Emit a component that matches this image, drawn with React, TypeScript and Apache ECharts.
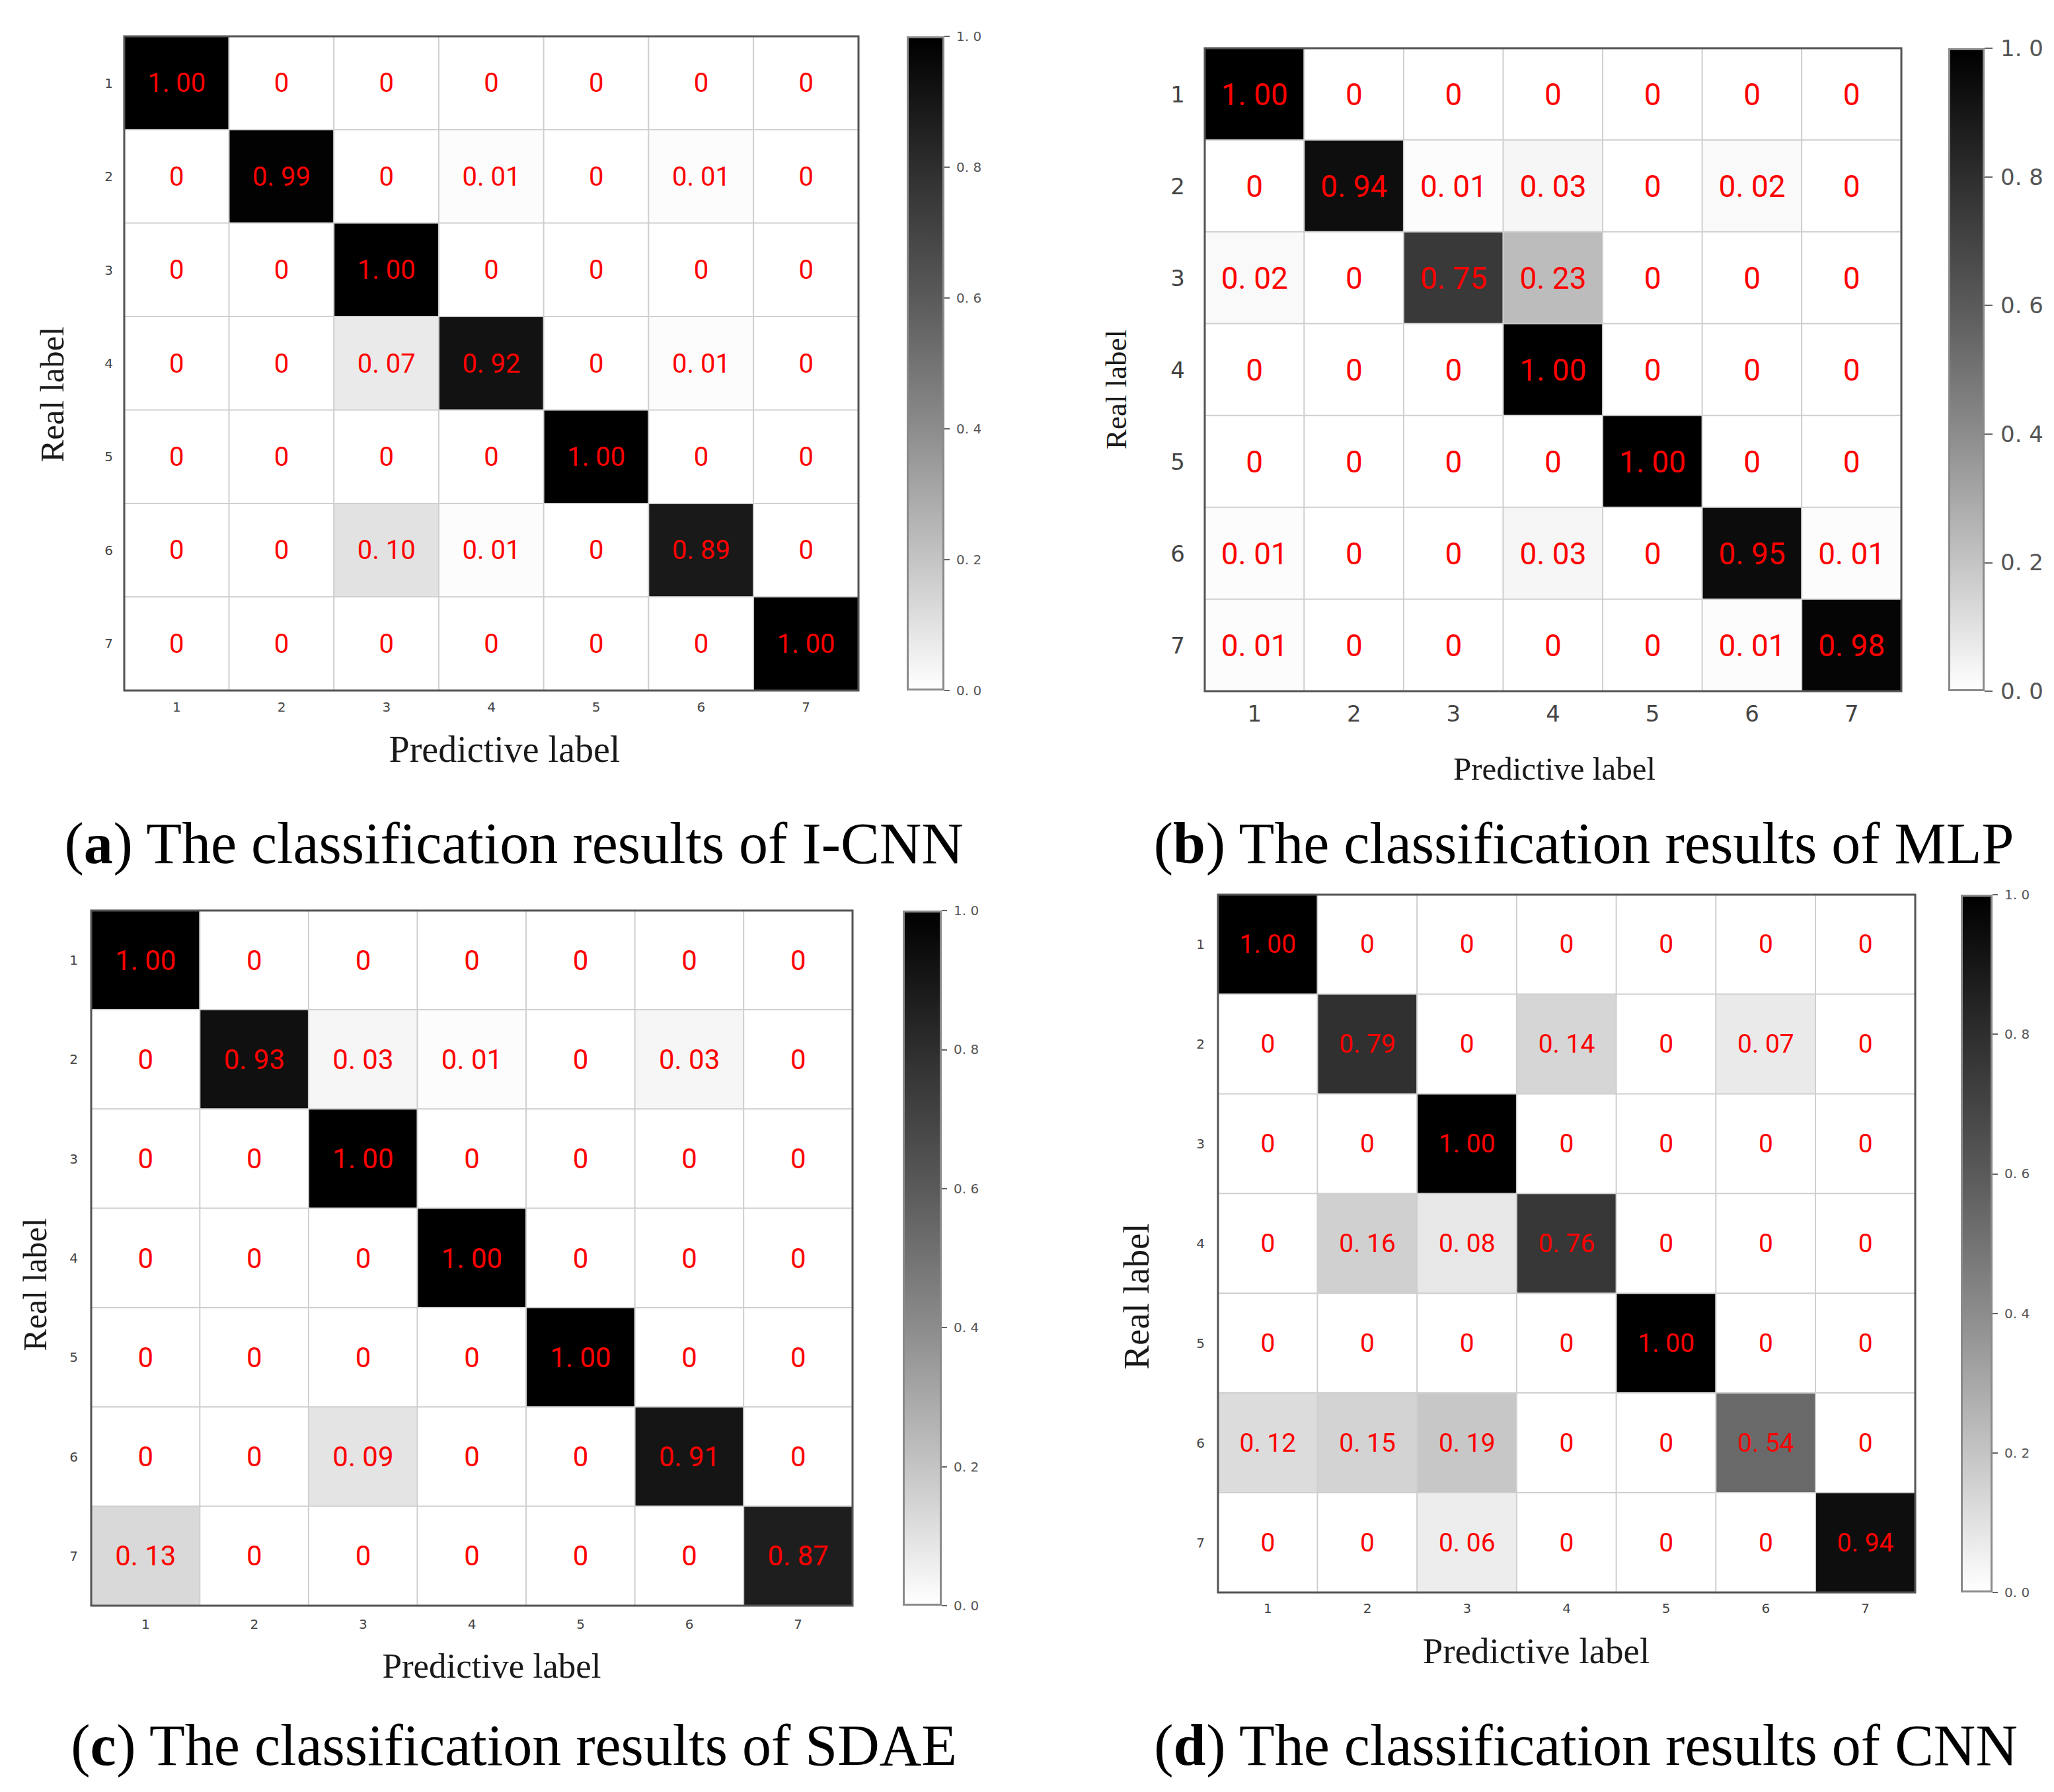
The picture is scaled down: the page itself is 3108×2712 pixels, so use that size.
import React, { useEffect, useRef } from 'react';
import * as echarts from 'echarts';

// ---------- data ----------
const categories = ['1', '2', '3', '4', '5', '6', '7'];

const icnnValues = [
  [1.0, 0, 0, 0, 0, 0, 0],
  [0, 0.99, 0, 0.01, 0, 0.01, 0],
  [0, 0, 1.0, 0, 0, 0, 0],
  [0, 0, 0.07, 0.92, 0, 0.01, 0],
  [0, 0, 0, 0, 1.0, 0, 0],
  [0, 0, 0.1, 0.01, 0, 0.89, 0],
  [0, 0, 0, 0, 0, 0, 1.0],
];

const mlpValues = [
  [1.0, 0, 0, 0, 0, 0, 0],
  [0, 0.94, 0.01, 0.03, 0, 0.02, 0],
  [0.02, 0, 0.75, 0.23, 0, 0, 0],
  [0, 0, 0, 1.0, 0, 0, 0],
  [0, 0, 0, 0, 1.0, 0, 0],
  [0.01, 0, 0, 0.03, 0, 0.95, 0.01],
  [0.01, 0, 0, 0, 0, 0.01, 0.98],
];

const sdaeValues = [
  [1.0, 0, 0, 0, 0, 0, 0],
  [0, 0.93, 0.03, 0.01, 0, 0.03, 0],
  [0, 0, 1.0, 0, 0, 0, 0],
  [0, 0, 0, 1.0, 0, 0, 0],
  [0, 0, 0, 0, 1.0, 0, 0],
  [0, 0, 0.09, 0, 0, 0.91, 0],
  [0.13, 0, 0, 0, 0, 0, 0.87],
];

const cnnValues = [
  [1.0, 0, 0, 0, 0, 0, 0],
  [0, 0.79, 0, 0.14, 0, 0.07, 0],
  [0, 0, 1.0, 0, 0, 0, 0],
  [0, 0.16, 0.08, 0.76, 0, 0, 0],
  [0, 0, 0, 0, 1.0, 0, 0],
  [0.12, 0.15, 0.19, 0, 0, 0.54, 0],
  [0, 0, 0.06, 0, 0, 0, 0.94],
];

const colorbarRange = [0, 1];
const colorbarInterval = 0.2;
const greyStops = ['#ffffff', '#c4c4c4', '#8c8c8c', '#5a5a5a', '#2e2e2e', '#000000'];

const captions = [
  { letter: 'a', text: 'The classification results of I-CNN' },
  { letter: 'b', text: 'The classification results of MLP' },
  { letter: 'c', text: 'The classification results of SDAE' },
  { letter: 'd', text: 'The classification results of CNN' },
];

// ---------- layout ----------
const panels = [
  {
    values: icnnValues,
    grid: { left: 188, top: 55, width: 1111, height: 990 },
    cb: { left: 1372, top: 55, width: 57, height: 990 },
    tickFont: 20, xLabelMargin: 15, yLabelMargin: 17,
    cellFont: 40, xNameFont: 56, xNameGap: 61, xNamePad: [0, 0, 0, 40],
    yNameFont: 51, yNameGap: 84, yNamePad: [0, 94, 0, 0],
    cbFont: 20, cbMargin: 18, cbTick: 8,
    cap: { x: 778, y: 1276 },
  },
  {
    values: mlpValues,
    grid: { left: 1823, top: 73, width: 1054, height: 973 },
    cb: { left: 2948, top: 73, width: 55, height: 973 },
    tickFont: 34, xLabelMargin: 17, yLabelMargin: 30,
    cellFont: 46, xNameFont: 49, xNameGap: 93, xNamePad: [0, 0, 0, 4],
    yNameFont: 45, yNameGap: 112, yNamePad: [0, 60, 0, 0],
    cbFont: 34, cbMargin: 24, cbTick: 12,
    cap: { x: 2397, y: 1276 },
  },
  {
    values: sdaeValues,
    grid: { left: 138, top: 1378, width: 1152, height: 1052 },
    cb: { left: 1366, top: 1378, width: 59, height: 1052 },
    tickFont: 20, xLabelMargin: 18, yLabelMargin: 20,
    cellFont: 42, xNameFont: 53, xNameGap: 64, xNamePad: [0, 0, 0, 60],
    yNameFont: 50, yNameGap: 60, yNamePad: [0, 80, 0, 0],
    cbFont: 20, cbMargin: 18, cbTick: 8,
    cap: { x: 778, y: 2641 },
  },
  {
    values: cnnValues,
    grid: { left: 1843, top: 1354, width: 1055, height: 1056 },
    cb: { left: 2967, top: 1354, width: 48, height: 1056 },
    tickFont: 20, xLabelMargin: 14, yLabelMargin: 20,
    cellFont: 39, xNameFont: 55, xNameGap: 61, xNamePad: [0, 92, 0, 0],
    yNameFont: 55, yNameGap: 96, yNamePad: [0, 160, 0, 0],
    cbFont: 20, cbMargin: 18, cbTick: 8,
    cap: { x: 2400, y: 2641 },
  },
];

const toHeat = (m: number[][]) => {
  const out: number[][] = [];
  m.forEach((row, r) => row.forEach((v, c) => out.push([c, r, v])));
  return out;
};
const fmtCell = (v: number) => (v === 0 ? '0' : v.toFixed(2).replace('.', '. '));
const fmtBar = (v: number) => v.toFixed(1).replace('.', '. ');

function buildOption() {
  const grid: any[] = [];
  const xAxis: any[] = [];
  const yAxis: any[] = [];
  const series: any[] = [];
  const visualMap: any[] = [];
  const graphic: any[] = [];

  const gradStops = greyStops
    .slice()
    .reverse()
    .map((c, i, arr) => ({ offset: i / (arr.length - 1), color: c }));

  panels.forEach((p, i) => {
    const gh = 2 * i;
    const gc = 2 * i + 1;
    grid.push({
      ...p.grid,
      show: true,
      z: 10,
      backgroundColor: 'rgba(0,0,0,0)',
      borderColor: '#555555',
      borderWidth: 3,
    });
    grid.push({ ...p.cb, containLabel: false });

    xAxis.push({
      type: 'category',
      gridIndex: gh,
      data: categories,
      name: 'Predictive label',
      nameLocation: 'middle',
      nameGap: p.xNameGap,
      nameTextStyle: {
        fontFamily: 'Liberation Serif',
        fontSize: p.xNameFont,
        color: '#1a1a1a',
        padding: p.xNamePad,
      },
      axisLine: { show: false },
      axisTick: { show: false },
      splitLine: { show: false },
      axisLabel: { fontSize: p.tickFont, color: '#444', margin: p.xLabelMargin, fontFamily: 'DejaVu Sans' },
    });
    yAxis.push({
      type: 'category',
      gridIndex: gh,
      data: categories,
      inverse: true,
      name: 'Real label',
      nameLocation: 'middle',
      nameRotate: 90,
      nameGap: p.yNameGap,
      nameTextStyle: {
        fontFamily: 'Liberation Serif',
        fontSize: p.yNameFont,
        color: '#1a1a1a',
        padding: p.yNamePad,
      },
      axisLine: { show: false },
      axisTick: { show: false },
      splitLine: { show: false },
      axisLabel: { fontSize: p.tickFont, color: '#444', margin: p.yLabelMargin, fontFamily: 'DejaVu Sans' },
    });

    xAxis.push({ type: 'category', gridIndex: gc, data: ['scale'], show: false });
    yAxis.push({
      type: 'value',
      gridIndex: gc,
      position: 'right',
      min: colorbarRange[0],
      max: colorbarRange[1],
      interval: colorbarInterval,
      axisLine: { show: false },
      axisTick: { show: true, length: p.cbTick, lineStyle: { color: '#666', width: 2 } },
      splitLine: { show: false },
      axisLabel: { formatter: fmtBar, fontSize: p.cbFont, color: '#555', margin: p.cbMargin, fontFamily: 'DejaVu Sans' },
    });

    series.push({
      type: 'heatmap',
      xAxisIndex: gh,
      yAxisIndex: gh,
      data: toHeat(p.values),
      label: {
        show: true,
        formatter: (prm: any) => fmtCell(prm.value[2]),
        color: '#ff0000',
        fontSize: p.cellFont,
        fontFamily: 'Roboto',
      },
      itemStyle: { borderColor: '#cfcfcf', borderWidth: 2 },
      emphasis: { disabled: true },
      silent: true,
    });
    series.push({
      type: 'bar',
      xAxisIndex: gc,
      yAxisIndex: gc,
      data: [colorbarRange[1]],
      barWidth: '100%',
      silent: true,
      itemStyle: {
        color: new echarts.graphic.LinearGradient(0, 0, 0, 1, gradStops),
        borderColor: '#8a8a8a',
        borderWidth: 3,
      },
    });

    visualMap.push({
      type: 'continuous',
      show: false,
      min: colorbarRange[0],
      max: colorbarRange[1],
      seriesIndex: 2 * i,
      inRange: { color: greyStops },
    });

    const cap = captions[i];
    graphic.push({
      type: 'text',
      x: p.cap.x,
      y: p.cap.y,
      style: {
        text: '({b|' + cap.letter + '}) ' + cap.text,
        fontFamily: 'Liberation Serif',
        fontSize: 88,
        fill: '#000',
        textAlign: 'center',
        align: 'center',
        textVerticalAlign: 'middle',
        verticalAlign: 'middle',
        rich: {
          b: { fontFamily: 'Liberation Serif', fontSize: 88, fontWeight: 'bold', fill: '#000', color: '#000' },
        },
      },
    });
  });

  return {
    animation: false,
    backgroundColor: '#ffffff',
    grid,
    xAxis,
    yAxis,
    visualMap,
    series,
    graphic,
  };
}

export default function App() {
  const ref = useRef<HTMLDivElement>(null);
  useEffect(() => {
    document.body.style.margin = '0';
    if (!ref.current) return;
    const chart = echarts.init(ref.current, null, { renderer: 'svg' });
    chart.setOption(buildOption() as any);
    return () => chart.dispose();
  }, []);
  return <div ref={ref} style={{ width: 3108, height: 2712 }} />;
}
